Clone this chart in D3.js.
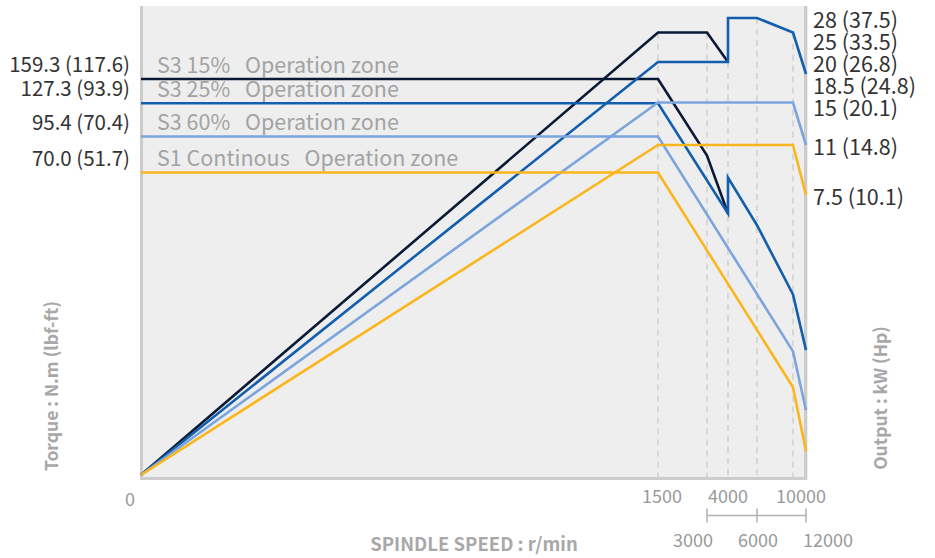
<!DOCTYPE html>
<html><head><meta charset="utf-8">
<script src="https://cdn.jsdelivr.net/npm/d3@7"></script>
<style>
html,body{margin:0;padding:0;background:#fff;}
text{font-family:"Noto Sans CJK SC","Noto Sans",sans-serif;}
</style></head>
<body><svg id="c" width="935" height="558"></svg>
<script>
// ---- data ----
const speedTicks = [0, 1500, 3000, 4000, 6000, 10000, 12000];
const speedLabelsTop = [1500, 4000, 10000];
const speedLabelsBottom = [3000, 6000, 12000];
const torqueTicks = [159.3, 127.3, 95.4, 70.0];
const torqueLbf = [117.6, 93.9, 70.4, 51.7];
const powerTicks = [28, 25, 20, 18.5, 15, 11, 7.5];
const powerHp = [37.5, 33.5, 26.8, 24.8, 20.1, 14.8, 10.1];
const zoneDuty = ["S3 15%", "S3 25%", "S3 60%", "S1 Continous"];
const zoneSuffix = "Operation zone";
const seriesColors = ["#0a1a36", "#135fae", "#7ba5dc", "#fbb61d"];

// torque curves (N.m) vs speed
const tq15Speed = [0, 1500, 3000, 4000];
const tq15 = [159.3, 159.3, 82.0, 60.5];
const tq25Speed = [0, 1500, 4000, 4000, 6000, 10000, 12000];
const tq25 = [127.3, 127.3, 60.5, 68.8, 57.8, 41.8, 28.9];
const tq60Speed = [0, 1500, 10000, 12000];
const tq60 = [95.4, 95.4, 28.6, 15.0];
const tqS1Speed = [0, 1500, 10000, 12000];
const tqS1 = [70.0, 70.0, 20.3, 5.5];

// output curves (kW) vs speed
const pw15Speed = [0, 1500, 3000, 4000];
const pw15 = [0, 25, 25, 20];
const pw25Speed = [0, 1500, 4000, 4000, 6000, 10000, 12000];
const pw25 = [0, 20, 20, 28, 28, 25, 18.5];
const pw60Speed = [0, 1500, 10000, 12000];
const pw60 = [0, 15, 15, 11];
const pwS1Speed = [0, 1500, 10000, 12000];
const pwS1 = [0, 11, 11, 7.5];

// ---- layout ----
const svg = d3.select("#c");
const plot = {left: 140, right: 808, top: 6, bottom: 480};

const x = d3.scaleLinear().domain(speedTicks).range([141, 658, 707, 728, 757, 793, 806]);
const yT = d3.scaleLinear().domain([0, 70.0, 95.4, 127.3, 159.3]).range([475, 172.5, 136.5, 103.3, 79]);
const yP = d3.scaleLinear().domain([0, 7.5, 11, 15, 18.5, 20, 25, 28]).range([475, 195, 145, 102.5, 74, 62, 32.5, 18]);

// background
svg.append("rect").attr("x", plot.left).attr("y", plot.top)
  .attr("width", plot.right - plot.left).attr("height", plot.bottom - plot.top)
  .attr("fill", "#eeeeee");
const border = "#cccccc";
svg.append("path")
  .attr("d", `M${plot.left + 1.5},${plot.top} V${plot.bottom - 1.5} H${plot.right - 2.5} V${plot.top}`)
  .attr("fill", "none").attr("stroke", border).attr("stroke-width", 3);

// dashed verticals
const allPower = [[pw15Speed, pw15], [pw25Speed, pw25], [pw60Speed, pw60], [pwS1Speed, pwS1]];
speedTicks.slice(1, 6).forEach(s => {
  let mx = 0;
  allPower.forEach(([sp, v]) => sp.forEach((q, i) => { if (q === s) mx = Math.max(mx, v[i]); }));
  svg.append("line").attr("x1", x(s)).attr("x2", x(s))
    .attr("y1", yP(mx)).attr("y2", plot.bottom - 3)
    .attr("stroke", "#c8c8c8").attr("stroke-width", 1.2).attr("stroke-dasharray", "6,5");
});

// curves
const line = d3.line();
function drawSeries(sp, vals, scale, color) {
  svg.append("path")
    .attr("d", line(sp.map((s, i) => [x(s), scale(vals[i])])))
    .attr("fill", "none").attr("stroke", color).attr("stroke-width", 2.6)
    .attr("stroke-linejoin", "miter");
}
drawSeries(tq15Speed, tq15, yT, seriesColors[0]);
drawSeries(pw15Speed, pw15, yP, seriesColors[0]);
drawSeries(tq25Speed, tq25, yT, seriesColors[1]);
drawSeries(pw25Speed, pw25, yP, seriesColors[1]);
drawSeries(tq60Speed, tq60, yT, seriesColors[2]);
drawSeries(pw60Speed, pw60, yP, seriesColors[2]);
drawSeries(tqS1Speed, tqS1, yT, seriesColors[3]);
drawSeries(pwS1Speed, pwS1, yP, seriesColors[3]);

// left torque labels + zone names
torqueTicks.forEach((t, i) => {
  const yy = yT(t) - 14;
  svg.append("text").attr("x", 130).attr("y", yy).attr("dy", "0.35em")
    .attr("text-anchor", "end").attr("font-size", 20.5).attr("fill", "#333")
    .text(`${t.toFixed(1)} (${torqueLbf[i].toFixed(1)})`);
  const zt = svg.append("text").attr("x", 157).attr("y", yy).attr("dy", "0.35em")
    .attr("font-size", 21.5).attr("fill", "#a3a3a3");
  zt.append("tspan").text(zoneDuty[i] + " ");
  zt.append("tspan").attr("dx", 10).text(zoneSuffix);
});

// right power labels (with spacing)
let prev = -100;
powerTicks.forEach((p, i) => {
  let yy = Math.max(yP(p) + 2, prev + 22);
  prev = yy;
  svg.append("text").attr("x", 813).attr("y", yy).attr("dy", "0.35em")
    .attr("font-size", 21.5).attr("fill", "#333")
    .text(`${p} (${powerHp[i]})`);
});

// bottom speed labels
const axisGray = "#9a9a9a";
svg.append("text").attr("x", 130).attr("y", 500).attr("dy", "0.35em")
  .attr("text-anchor", "middle").attr("font-size", 18).attr("fill", axisGray).text("0");
speedLabelsTop.forEach(s => {
  svg.append("text").attr("x", x(s) + (s === 1500 ? 4 : s === 10000 ? 8 : 0)).attr("y", 497).attr("dy", "0.35em")
    .attr("text-anchor", "middle").attr("font-size", 18).attr("fill", axisGray).text(s);
});
speedLabelsBottom.forEach(s => {
  svg.append("text").attr("x", x(s) + (s === 3000 ? -14 : s === 12000 ? 22 : 1)).attr("y", 541).attr("dy", "0.35em")
    .attr("text-anchor", "middle").attr("font-size", 18).attr("fill", axisGray).text(s);
});
// bracket
const by = 515.5;
svg.append("line").attr("x1", x(3000)).attr("x2", x(12000)).attr("y1", by).attr("y2", by)
  .attr("stroke", "#b0b0b0").attr("stroke-width", 1.5);
[3000, 6000, 12000].forEach(s => {
  svg.append("line").attr("x1", x(s)).attr("x2", x(s)).attr("y1", by - 7).attr("y2", by + 7)
    .attr("stroke", "#b0b0b0").attr("stroke-width", 1.5);
});

// axis titles
svg.append("text").attr("x", 474).attr("y", 545).attr("dy", "0.35em")
  .attr("text-anchor", "middle").attr("font-size", 18.5).attr("font-weight", "bold")
  .attr("fill", "#a8a8a8").text("SPINDLE SPEED : r/min");
svg.append("text").attr("transform", "translate(52,386) rotate(-90)").attr("dy", "0.35em")
  .attr("text-anchor", "middle").attr("font-size", 17.5).attr("font-weight", "bold")
  .attr("fill", "#a8a8a8").text("Torque : N.m (lbf-ft)");
svg.append("text").attr("transform", "translate(881,398) rotate(-90)").attr("dy", "0.35em")
  .attr("text-anchor", "middle").attr("font-size", 17.5).attr("font-weight", "bold")
  .attr("fill", "#a8a8a8").text("Output : kW (Hp)");
</script></body></html>
